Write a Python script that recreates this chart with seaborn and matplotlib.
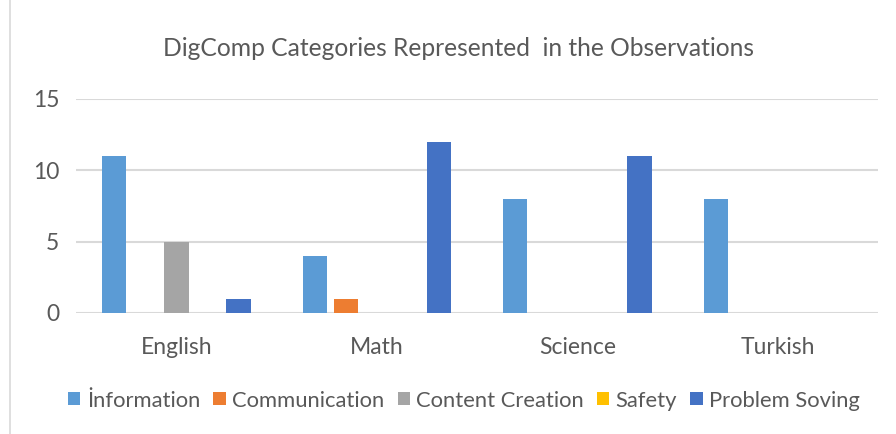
import pandas as pd
import matplotlib
matplotlib.use("Agg")
import matplotlib.pyplot as plt
import seaborn as sns
from matplotlib.patches import Rectangle

# Data
subjects = ["English", "Math", "Science", "Turkish"]
categories = ["İnformation", "Communication", "Content Creation", "Safety", "Problem Soving"]
information = [11, 4, 8, 8]
communication = [0, 1, 0, 0]
content_creation = [5, 0, 0, 0]
safety = [0, 0, 0, 0]
problem_solving = [1, 12, 11, 0]

colors = ["#5B9BD5", "#ED7D31", "#A5A5A5", "#FFC000", "#4472C4"]

sns.set_style("white")
plt.rcParams['font.family'] = ['Lato', 'DejaVu Sans']

series = [information, communication, content_creation, safety, problem_solving]
rows = []
for cat, vals in zip(categories, series):
    for subj, v in zip(subjects, vals):
        rows.append({"Subject": subj, "Category": cat, "Count": v})
df = pd.DataFrame(rows)

fig = plt.figure(figsize=(8.96, 4.34), dpi=100)
ax = fig.add_axes([0.085, 0.279, 0.895, 0.493])

sns.barplot(data=df, x="Subject", y="Count", hue="Category", hue_order=categories,
            palette=colors, saturation=1, width=0.775, gap=0.22, linewidth=0, ax=ax)

ax.set_ylim(0, 15)
ax.set_yticks([0, 5, 10, 15])
ax.yaxis.grid(True, color="#D9D9D9", linewidth=1.5)
ax.set_axisbelow(True)
for s in ax.spines.values():
    s.set_visible(False)
ax.set_xlabel("")
ax.set_ylabel("")
ax.tick_params(axis="both", length=0, labelsize=16.5, colors="#595959")
ax.tick_params(axis="x", pad=17)
ax.tick_params(axis="y", pad=12)

fig.text(0.512, 0.889, "DigComp Categories Represented  in the Observations",
         ha="center", va="center", fontsize=17.7, color="#595959")

handles, labels = ax.get_legend_handles_labels()
ax.legend(handles, labels, loc="center", bbox_to_anchor=(0.518, 0.077),
          bbox_transform=fig.transFigure, ncol=5, frameon=False,
          fontsize=15.8, handlelength=0.55, handleheight=0.55, handletextpad=0.3,
          columnspacing=0.6, labelcolor="#595959")

fig.patches.append(Rectangle((0.011, -0.05), 1.1, 1.1, transform=fig.transFigure,
                             fill=False, edgecolor="#D9D9D9", linewidth=1.2))

fig.savefig("out.png", dpi=100)
